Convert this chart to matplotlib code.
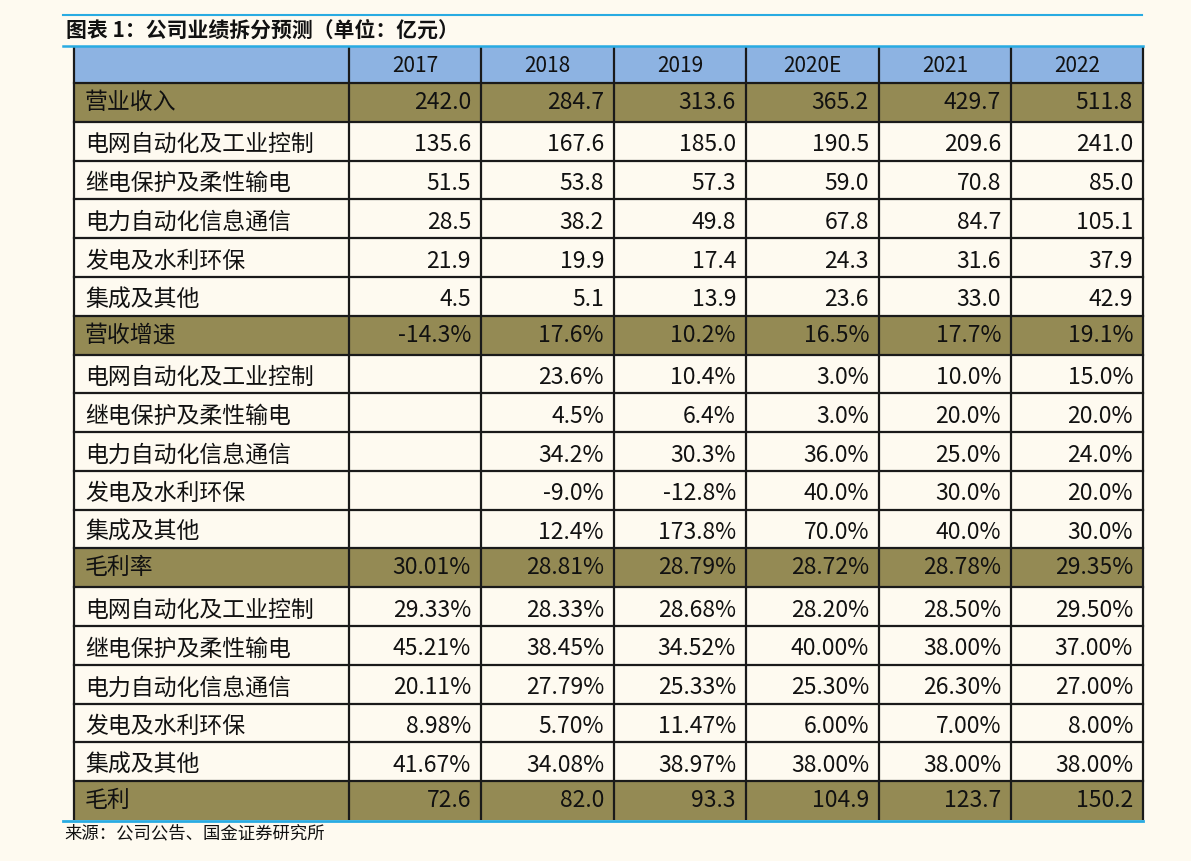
import matplotlib
matplotlib.use("Agg")
import matplotlib.pyplot as plt
from matplotlib.patches import Rectangle

plt.rcParams['font.family'] = ['Noto Sans CJK SC', 'DejaVu Sans']

title = "图表 1：公司业绩拆分预测（单位：亿元）"
source = "来源：公司公告、国金证券研究所"

years = ['2017', '2018', '2019', '2020E', '2021', '2022']
segments = ['电网自动化及工业控制', '继电保护及柔性输电', '电力自动化信息通信', '发电及水利环保', '集成及其他']

revenue_total = [242.0, 284.7, 313.6, 365.2, 429.7, 511.8]
revenue_seg = [
    [135.6, 167.6, 185.0, 190.5, 209.6, 241.0],
    [51.5, 53.8, 57.3, 59.0, 70.8, 85.0],
    [28.5, 38.2, 49.8, 67.8, 84.7, 105.1],
    [21.9, 19.9, 17.4, 24.3, 31.6, 37.9],
    [4.5, 5.1, 13.9, 23.6, 33.0, 42.9],
]

growth_total = [-14.3, 17.6, 10.2, 16.5, 17.7, 19.1]
growth_seg = [
    [None, 23.6, 10.4, 3.0, 10.0, 15.0],
    [None, 4.5, 6.4, 3.0, 20.0, 20.0],
    [None, 34.2, 30.3, 36.0, 25.0, 24.0],
    [None, -9.0, -12.8, 40.0, 30.0, 20.0],
    [None, 12.4, 173.8, 70.0, 40.0, 30.0],
]

margin_total = [30.01, 28.81, 28.79, 28.72, 28.78, 29.35]
margin_seg = [
    [29.33, 28.33, 28.68, 28.20, 28.50, 29.50],
    [45.21, 38.45, 34.52, 40.00, 38.00, 37.00],
    [20.11, 27.79, 25.33, 25.30, 26.30, 27.00],
    [8.98, 5.70, 11.47, 6.00, 7.00, 8.00],
    [41.67, 34.08, 38.97, 38.00, 38.00, 38.00],
]

gross_profit = [72.6, 82.0, 93.3, 104.9, 123.7, 150.2]

bg = '#fefaf0'
blue_head = '#8db3e2'
olive = '#948a54'
line_blue = '#29abe2'

# build rows: (label, values, highlighted)
rows = []
rows.append(('营业收入', ['%.1f' % v for v in revenue_total], True))
for s, vals in zip(segments, revenue_seg):
    rows.append((s, ['%.1f' % v for v in vals], False))
rows.append(('营收增速', ['%.1f%%' % v for v in growth_total], True))
for s, vals in zip(segments, growth_seg):
    rows.append((s, ['' if v is None else '%.1f%%' % v for v in vals], False))
rows.append(('毛利率', ['%.2f%%' % v for v in margin_total], True))
for s, vals in zip(segments, margin_seg):
    rows.append((s, ['%.2f%%' % v for v in vals], False))
rows.append(('毛利', ['%.1f' % v for v in gross_profit], True))

fig = plt.figure(figsize=(11.91, 8.61), dpi=100, facecolor=bg)
ax = fig.add_axes([0, 0, 1, 1])
ax.set_xlim(0, 1191)
ax.set_ylim(861, 0)
ax.axis('off')

col_x = [74, 349, 481, 614, 746, 879, 1011, 1143]
head_top, head_bot = 47, 83
row_h = (820 - head_bot) / len(rows)

# header
ax.add_patch(Rectangle((col_x[0], head_top), col_x[-1] - col_x[0], head_bot - head_top,
                       facecolor=blue_head, edgecolor='none'))
for i, y in enumerate(years):
    ax.text((col_x[i + 1] + col_x[i + 2]) / 2, (head_top + head_bot) / 2 + 1, y,
            ha='center', va='center', fontsize=15, color='#111111')

for r, (label, vals, hl) in enumerate(rows):
    top = head_bot + r * row_h
    if hl:
        ax.add_patch(Rectangle((col_x[0], top), col_x[-1] - col_x[0], row_h,
                               facecolor=olive, edgecolor='none'))
    yc = top + row_h / 2 + (0 if hl else 3.5)
    ax.text(col_x[0] + 11, yc, label, ha='left', va='center', fontsize=16.5, color='#111111')
    for i, v in enumerate(vals):
        ax.text(col_x[i + 2] - 10, yc, v, ha='right', va='center', fontsize=16.5, color='#111111')

# grid lines
bottom = head_bot + len(rows) * row_h
for x in col_x:
    ax.plot([x, x], [head_top, bottom], color='#1a1a1a', lw=1.6, solid_capstyle='butt')
ax.plot([col_x[0], col_x[-1]], [head_bot, head_bot], color='#1a1a1a', lw=1.6)
for r in range(1, len(rows)):
    y = head_bot + r * row_h
    ax.plot([col_x[0], col_x[-1]], [y, y], color='#1a1a1a', lw=1.6)

# blue rules
ax.plot([63, 1142], [15, 15], color=line_blue, lw=1.5)
ax.plot([63, 1143], [46, 46], color=line_blue, lw=1.8)
ax.plot([63, 1143], [bottom + 1, bottom + 1], color=line_blue, lw=2)

ax.text(66, 30, title, ha='left', va='center', fontsize=15, fontweight='bold',
        fontstyle='italic', color='#111111')
ax.text(64, 833, source, ha='left', va='center', fontsize=12.5, color='#111111')

fig.savefig('out.png', dpi=100, facecolor=bg)
